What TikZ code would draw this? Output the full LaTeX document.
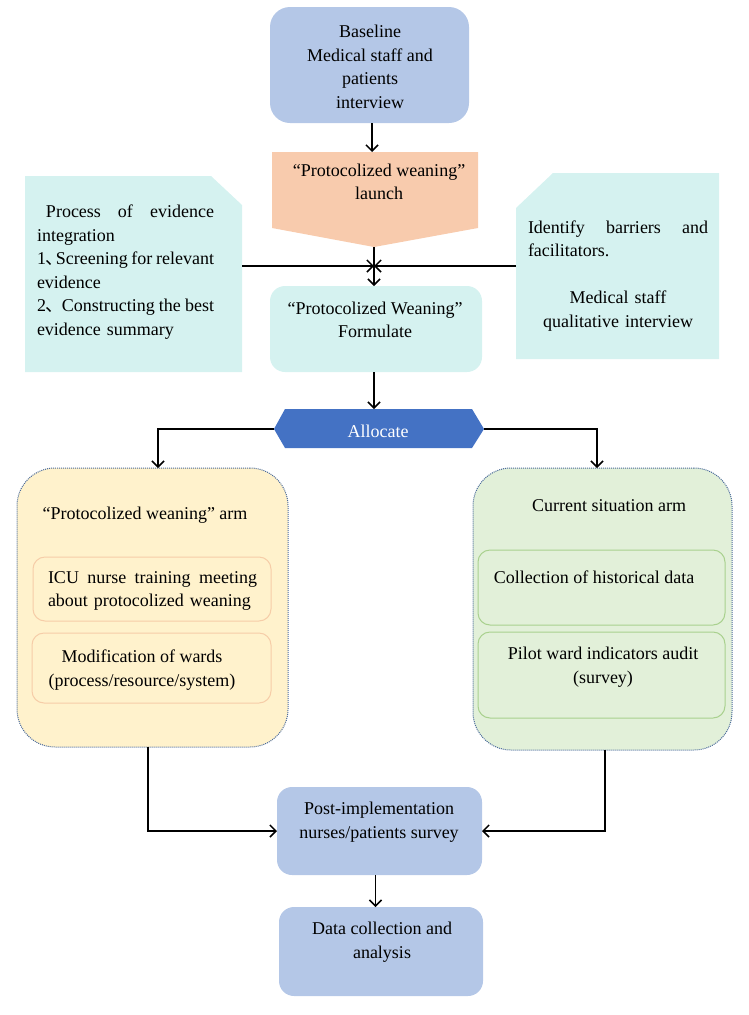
\documentclass[tikz,border=0pt]{standalone}
\usepackage{fontspec}
\setmainfont{Liberation Serif}
\newfontfamily\cjk{Noto Sans CJK SC}
\usetikzlibrary{arrows.meta}
\definecolor{lblue}{HTML}{B4C7E7}
\definecolor{lorange}{HTML}{F8CBAD}
\definecolor{lcyan}{HTML}{D5F2F0}
\definecolor{dblue}{HTML}{4472C4}
\definecolor{lyellow}{HTML}{FFF2CC}
\definecolor{lgreen}{HTML}{E2F0D9}
\definecolor{dotcol}{HTML}{4A6A9A}
\definecolor{obord}{HTML}{F6CDA8}
\definecolor{gbord}{HTML}{A9D18E}
\newcommand{\dun}{{\cjk 、}\hspace{-0.45em}}
\newcommand{\jl}[2]{\leavevmode\makebox[#1][l]{#2}}
\begin{document}
\begin{tikzpicture}[x=1pt,y=-1pt,
  font=\fontsize{18}{23.5}\selectfont,
  box/.style={anchor=north west, inner sep=0pt, outer sep=0pt},
  txt/.style={inner sep=0pt, align=center},
  arr/.style={line width=1.5pt, -{Straight Barb[length=6pt,width=12pt]}},
  arm/.style={box, densely dotted, draw=dotcol, line width=1pt, rounded corners=38pt},
  inner/.style={box, line width=1pt, rounded corners=12pt}]
\useasboundingbox (0,0) rectangle (748,1015);

% Baseline
\node[box, fill=lblue, rounded corners=20pt, minimum width=199pt, minimum height=116pt] (baseline) at (270,7) {};
\node[txt] (baselinet) at (370,67) {Baseline\\Medical staff and\\patients\\interview};

% Launch pentagon
\fill[lorange] (272,152) -- (478,152) -- (478,228) -- (374,247) -- (272,228) -- cycle;
\coordinate (launchtop) at (372,152);
\coordinate (launchtip) at (374,247);
\node[txt] (launcht) at (379,182) {“Protocolized weaning”\\launch};

% Left evidence box
\fill[lcyan] (25,176) -- (211,176) -- (242,205) -- (242,372) -- (25,372) -- cycle;
\coordinate (evR) at (242,266);
\node[txt, align=left, text width=177pt] (evt) at (125.5,272) {%
\jl{177pt}{\hspace*{9pt}Process\hfill of\hfill evidence}\\
integration\\
\jl{177pt}{1\dun Screening\hfill for\hfill relevant}\\
evidence\\
\jl{177pt}{2\dun\ Constructing\hfill the\hfill best}\\
evidence summary};

% Right barriers box
\fill[lcyan] (553,173) -- (719,173) -- (719,359) -- (516,359) -- (516,208) -- cycle;
\coordinate (idL) at (516,266);
\node[txt, text width=180pt] (idt) at (618,276) {%
\jl{180pt}{Identify\hfill barriers\hfill and}\\
\jl{180pt}{facilitators.\hfill}\\[23.5pt]
Medical staff\\
qualitative interview};

% Formulate
\node[box, fill=lcyan, rounded corners=15pt, minimum width=212pt, minimum height=86pt] (formulate) at (270,286) {};
\node[txt] (formulatet) at (375,320) {“Protocolized Weaning”\\Formulate};

\coordinate (cross) at (374,266);

% Allocate hexagon
\fill[dblue] (274,429) -- (285,409) -- (472,409) -- (484,429) -- (472,448) -- (285,448) -- cycle;
\coordinate (allocT) at (376,409);
\coordinate (allocL) at (274,429);
\coordinate (allocR) at (484,429);
\node[txt, text=white] (alloct) at (378,431) {Allocate};

% Left arm
\node[arm, fill=lyellow, minimum width=271pt, minimum height=279pt] (leftarm) at (17,468) {};
\node[txt] (leftarmt) at (145,515) {“Protocolized weaning” arm};
\node[inner, draw=obord, fill=lyellow, minimum width=238pt, minimum height=64pt] (icu) at (33,557) {};
\node[txt, align=left, text width=209pt] (icut) at (152.5,591) {%
\jl{209pt}{ICU\hfill nurse\hfill training\hfill meeting}\\
about protocolized weaning};
\node[inner, draw=obord, fill=lyellow, minimum width=239pt, minimum height=70pt] (modif) at (32,633) {};
\node[txt] (modift) at (142,670) {Modification of wards\\(process/resource/system)};

% Right arm
\node[arm, fill=lgreen, minimum width=259pt, minimum height=282pt] (rightarm) at (473,468) {};
\node[txt] (rightarmt) at (609,506) {Current situation arm};
\node[inner, draw=gbord, fill=lgreen, minimum width=247pt, minimum height=75pt] (hist) at (478,550) {};
\node[txt] (histt) at (594,577) {Collection of historical data};
\node[inner, draw=gbord, fill=lgreen, minimum width=247pt, minimum height=86pt] (pilot) at (478,632) {};
\node[txt] (pilott) at (603,667) {Pilot ward indicators audit\\(survey)};

% Post and data
\node[box, fill=lblue, rounded corners=15pt, minimum width=205pt, minimum height=88pt] (post) at (277,787) {};
\node[txt] (postt) at (379,822) {Post-implementation\\nurses/patients survey};
\node[box, fill=lblue, rounded corners=15pt, minimum width=204pt, minimum height=89pt] (data) at (279,907) {};
\node[txt] (datat) at (382,942) {Data collection and\\analysis};

% Connectors
\draw[arr] (baseline.south -| launchtop) -- (launchtop);
\draw[arr] (evR) -- (cross);
\draw[arr] (idL) -- (cross);
\draw[arr] (launchtip) -- (launchtip |- formulate.north);
\draw[arr] (formulate.south -| launchtip) -- (launchtip |- allocT);
\draw[arr] (allocL) -| ([xshift=5.5pt]leftarm.north);
\draw[arr] (allocR) -| ([xshift=-5.5pt]rightarm.north);
\draw[arr] ([xshift=-4.5pt]leftarm.south) |- (post.west);
\draw[arr] ([xshift=2.5pt]rightarm.south) |- (post.east);
\draw[arr] ([xshift=-4pt]post.south) -- ([xshift=-4pt]post.south |- data.north);
\end{tikzpicture}
\end{document}
